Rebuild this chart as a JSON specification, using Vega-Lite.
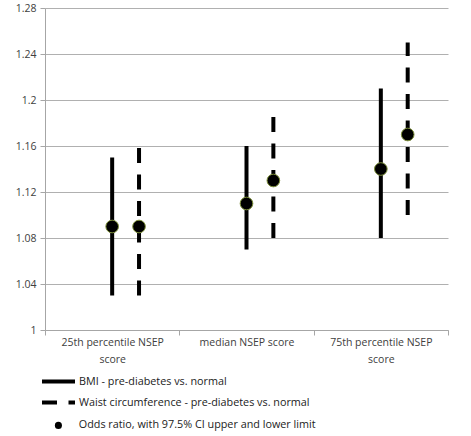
{
  "$schema": "https://vega.github.io/schema/vega-lite/v6.json",
  "width": 403,
  "height": 322,
  "autosize": {"type": "none"},
  "padding": {"left": 45, "top": 8, "right": 23, "bottom": 106},
  "background": "white",
  "config": {
    "view": {"stroke": null},
    "font": "Open Sans",
    "axis": {"labelFont": "Open Sans", "labelFontSize": 10.5, "labelColor": "#404040", "domainColor": "#a6a6a6", "tickColor": "#a6a6a6", "gridColor": "#b0b0b0", "title": null},
    "legend": {"labelFont": "Open Sans", "labelFontSize": 10.8, "labelColor": "#222222", "title": null, "labelLimit": 400}
  },
  "data": {
    "values": [
      {"cat": "25th percentile NSEP score", "series": "BMI - pre-diabetes vs. normal", "or": 1.09, "lo": 1.03, "hi": 1.15},
      {"cat": "25th percentile NSEP score", "series": "Waist circumference - pre-diabetes vs. normal", "or": 1.09, "lo": 1.03, "hi": 1.16},
      {"cat": "median NSEP score", "series": "BMI - pre-diabetes vs. normal", "or": 1.11, "lo": 1.07, "hi": 1.16},
      {"cat": "median NSEP score", "series": "Waist circumference - pre-diabetes vs. normal", "or": 1.13, "lo": 1.08, "hi": 1.19},
      {"cat": "75th percentile NSEP score", "series": "BMI - pre-diabetes vs. normal", "or": 1.14, "lo": 1.08, "hi": 1.21},
      {"cat": "75th percentile NSEP score", "series": "Waist circumference - pre-diabetes vs. normal", "or": 1.17, "lo": 1.10, "hi": 1.25}
    ]
  },
  "encoding": {
    "x": {
      "field": "cat", "type": "nominal", "sort": null,
      "scale": {"paddingInner": 0, "paddingOuter": 0},
      "axis": {"labelAngle": 0, "tickBand": "extent", "tickSize": 5, "labelPadding": 2, "labelBaseline": "top", "labelLineHeight": 17,
        "labelExpr": "!isValid(datum.value) ? '' : datum.value == 'median NSEP score' ? datum.value : [replace(datum.value, ' score', ''), 'score']"}
    },
    "xOffset": {
      "field": "series", "type": "nominal",
      "scale": {"domain": ["p1", "p2", "BMI - pre-diabetes vs. normal", "Waist circumference - pre-diabetes vs. normal", "p3"], "paddingInner": 0, "paddingOuter": 0}
    }
  },
  "resolve": {"scale": {"strokeDash": "independent"}, "legend": {"strokeDash": "independent"}},
  "layer": [
    {
      "transform": [{"filter": "datum.series == 'BMI - pre-diabetes vs. normal'"}],
      "mark": {"type": "rule", "strokeWidth": 4, "color": "black", "strokeCap": "butt"},
      "encoding": {
        "y": {"field": "lo", "type": "quantitative",
          "scale": {"domain": [1, 1.28], "nice": false, "zero": false},
          "axis": {"values": [1, 1.04, 1.08, 1.12, 1.16, 1.2, 1.24, 1.28], "format": "~g", "grid": true, "tickSize": 5, "labelPadding": 4}},
        "y2": {"field": "hi"},
        "strokeDash": {
          "datum": "BMI - pre-diabetes vs. normal", "type": "nominal",
          "scale": {"range": [[1, 0]]},
          "legend": {"orient": "none", "legendX": -5, "legendY": 355, "symbolType": "stroke", "symbolSize": 1089, "symbolStrokeWidth": 4, "symbolStrokeColor": "black", "labelOffset": 2, "padding": 0}
        }
      }
    },
    {
      "transform": [{"filter": "datum.series == 'Waist circumference - pre-diabetes vs. normal'"}],
      "mark": {"type": "rule", "strokeWidth": 4, "color": "black", "strokeCap": "butt"},
      "encoding": {
        "y": {"field": "lo", "type": "quantitative"},
        "y2": {"field": "hi"},
        "strokeDash": {
          "datum": "Waist circumference - pre-diabetes vs. normal", "type": "nominal",
          "scale": {"range": [[15, 11.5]]},
          "legend": {"orient": "none", "legendX": -5, "legendY": 376, "symbolType": "stroke", "symbolSize": 1089, "symbolStrokeWidth": 4, "symbolStrokeColor": "black", "labelOffset": 2, "padding": 0}
        }
      }
    },
    {
      "mark": {"type": "point", "shape": "circle", "filled": true, "size": 160, "stroke": "#7d8f3a", "strokeWidth": 1, "opacity": 1},
      "encoding": {
        "y": {"field": "or", "type": "quantitative"},
        "fill": {
          "datum": "Odds ratio, with 97.5% CI upper and lower limit", "type": "nominal",
          "scale": {"range": ["black"]},
          "legend": {"orient": "none", "legendX": 8, "legendY": 412, "symbolSize": 50, "symbolStrokeWidth": 0, "labelOffset": 15, "padding": 0}
        }
      }
    }
  ]
}
